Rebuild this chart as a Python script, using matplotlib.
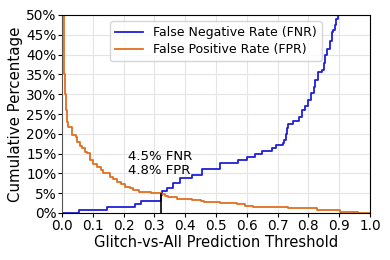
import matplotlib
matplotlib.use("Agg")
import matplotlib.pyplot as plt
import numpy as np
from matplotlib.ticker import PercentFormatter

# threshold -> false negative rate (%), step curve
fnr_x = [0.0, 0.055, 0.145, 0.237, 0.255, 0.322, 0.325, 0.34, 0.36, 0.383, 0.421,
         0.454, 0.513, 0.571, 0.601, 0.628, 0.648, 0.681, 0.695, 0.718, 0.722,
         0.726, 0.73, 0.733, 0.75, 0.77, 0.778, 0.789, 0.80, 0.81, 0.819, 0.822,
         0.832, 0.843, 0.85, 0.854, 0.86, 0.87, 0.875, 0.88, 0.885, 0.89, 0.897, 1.0]
fnr_y = [0.0, 0.7, 1.4, 2.2, 3.0, 4.5, 5.5, 6.2, 7.5, 8.8, 9.6,
         11.0, 12.6, 13.4, 14.1, 14.8, 15.6, 16.4, 17.2, 17.6, 18.5,
         20.0, 21.5, 22.4, 23.2, 24.3, 26.0, 27.1, 28.5, 30.2, 31.9, 33.5,
         35.7, 36.1, 38.0, 39.9, 41.5, 43.4, 45.8, 46.2, 47.5, 49.0, 50.5, 100.0]

# threshold -> false positive rate (%)
fpr_x = [0.0, 0.003, 0.006, 0.008, 0.01, 0.013, 0.016, 0.02, 0.031, 0.045, 0.05,
         0.058, 0.064, 0.075, 0.08, 0.091, 0.1, 0.113, 0.125, 0.134, 0.156, 0.165,
         0.178, 0.19, 0.205, 0.22, 0.231, 0.25, 0.264, 0.29, 0.31, 0.322, 0.335,
         0.345, 0.372, 0.421, 0.45, 0.46, 0.513, 0.567, 0.594, 0.621, 0.735,
         0.827, 0.903, 0.962, 1.0]
fpr_y = [100.0, 60.0, 45.0, 35.0, 30.0, 26.0, 23.0, 21.6, 19.7, 19.3, 18.0,
         17.0, 16.3, 15.5, 15.1, 13.4, 12.5, 11.7, 10.8, 10.0, 9.2, 8.7,
         7.9, 7.3, 6.6, 6.2, 5.8, 5.4, 5.2, 5.1, 5.0, 4.8, 4.4,
         4.1, 3.6, 3.3, 3.0, 2.85, 2.45, 2.2, 1.8, 1.6, 1.2,
         0.7, 0.25, 0.0, 0.0]

cut = 0.322
cut_fnr = 4.5
cut_fpr = 4.8

fig = plt.figure(figsize=(3.9, 2.6), dpi=100)
ax = fig.add_axes([62/390, 1 - 213/260, 308/390, 198/260])

ax.plot(fnr_x, fnr_y, color="#1f1fd8", lw=1.3, drawstyle="steps-post",
        label="False Negative Rate (FNR)")
ax.plot(fpr_x, fpr_y, color="#e07020", lw=1.3, drawstyle="steps-post",
        label="False Positive Rate (FPR)")
ax.plot([cut, cut], [0, cut_fpr], color="black", lw=1.2)
ax.text(0.214, 9.9, "%.1f%% FNR\n%.1f%% FPR" % (cut_fnr, cut_fpr), fontsize=9.5,
        linespacing=1.1)

ax.set_xlim(0, 1)
ax.set_ylim(0, 50)
ax.set_xticks(np.arange(0, 1.01, 0.1))
ax.set_yticks(np.arange(0, 51, 5))
ax.yaxis.set_major_formatter(PercentFormatter(decimals=0))
ax.tick_params(labelsize=9.8, length=3, pad=1)
ax.grid(color="#e4e4e4", lw=0.8)
ax.set_axisbelow(True)
ax.spines["left"].set_color("#555555")
ax.set_xlabel("Glitch-vs-All Prediction Threshold", fontsize=10.6, labelpad=2)
ax.set_ylabel("Cumulative Percentage", fontsize=10.8, labelpad=2)
ax.legend(loc="upper center", fontsize=9, handlelength=2.2, borderpad=0.4,
          labelspacing=0.3, borderaxespad=0.5)

fig.savefig("out.png", dpi=100)
